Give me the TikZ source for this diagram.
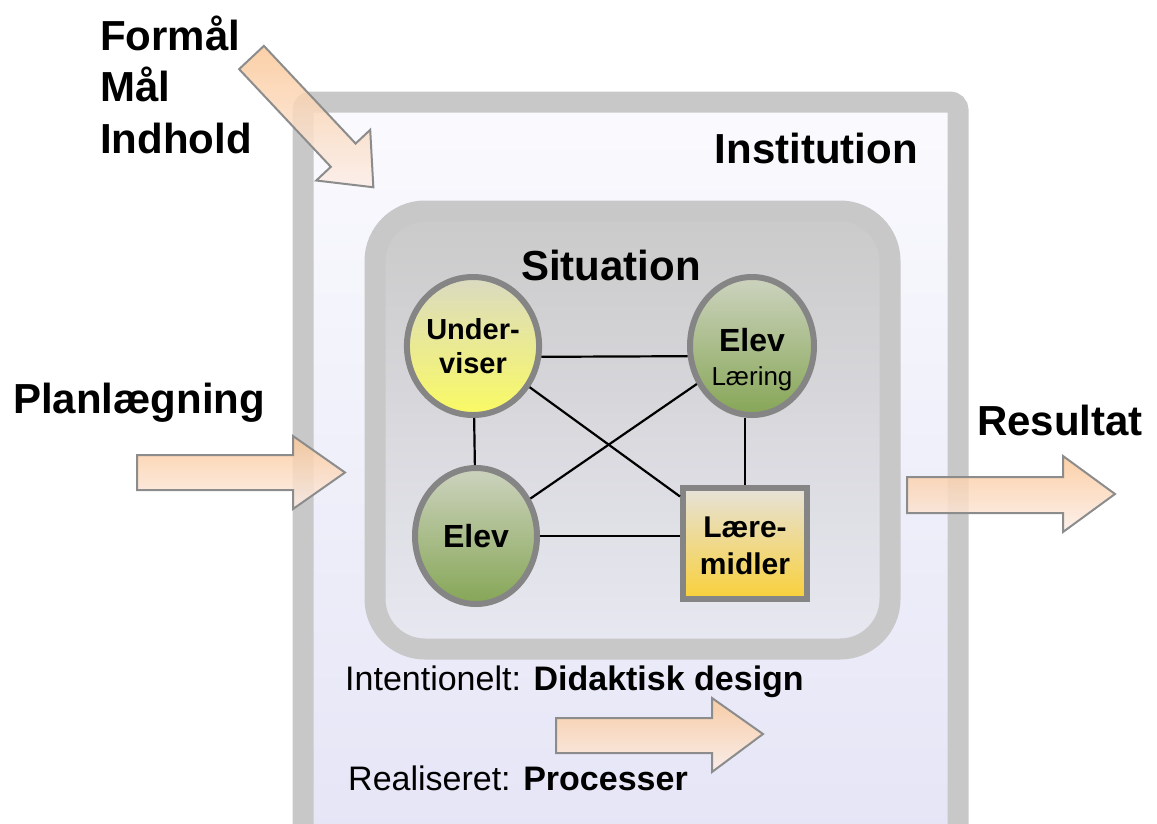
\documentclass[tikz,border=0pt]{standalone}
\usepackage{fontspec}
\setmainfont{Liberation Sans}
\usetikzlibrary{shapes.geometric}

\definecolor{rammegraa}{HTML}{C8C8C8}
\definecolor{lavtop}{HTML}{FAFAFE}
\definecolor{lavbund}{HTML}{E4E4F6}
\definecolor{sittop}{HTML}{CACACA}
\definecolor{sitbund}{HTML}{E8E8F2}
\definecolor{piltop}{HTML}{FAC898}
\definecolor{pilbund}{HTML}{FCEEE8}
\definecolor{pilkant}{HTML}{8C8C8C}
\definecolor{kant}{HTML}{858585}
\definecolor{gultop}{HTML}{DADAC2}
\definecolor{gulbund}{HTML}{FAFA64}
\definecolor{gronttop}{HTML}{CDD3BF}
\definecolor{grontbund}{HTML}{86A656}
\definecolor{midtop}{HTML}{E6E2DA}
\definecolor{midbund}{HTML}{F9D03A}

\tikzset{
  ramme/.style={draw=rammegraa, line width=21pt},
  pil/.style={draw=pilkant, line width=2pt, fill opacity=0.85, top color=piltop, bottom color=pilbund},
  rund/.style={ellipse, draw=kant, line width=6pt, inner sep=0pt, align=center},
  kasse/.style={rectangle, draw=kant, line width=6pt, inner sep=0pt, align=center},
  stor/.style={font=\fontsize{42}{51.5}\selectfont\bfseries, inner sep=0pt},
  lille/.style={font=\fontsize{34}{40}\selectfont, inner sep=0pt},
  streg/.style={line width=2.2pt},
}

\begin{document}
\begin{tikzpicture}[x=1pt,y=-1pt]
\useasboundingbox (0,0) rectangle (1157,823);
\clip (0,0) rectangle (1157,823);

% ===== Institution =====
\fill[top color=lavtop, bottom color=lavbund] (303,102) rectangle (958,870);
\draw[ramme, rounded corners=8pt] (303,870) -- (303,102) -- (958,102) -- (958,870);
\node[stor, anchor=base east] (inst) at (918,163) {Institution};

% ===== Situation =====
\draw[ramme, rounded corners=50pt, top color=sittop, bottom color=sitbund] (375,211) rectangle (890,649);
\node[stor, anchor=base] (sit) at (611,280) {Situation};

% Pile ind og ud
\begin{scope}[shift={(251.5,57.5)}, rotate=-46.8]
  \draw[pil] (0,-17) -- (134,-17) -- (134,-37) -- (178,0) -- (134,37) -- (134,17) -- (0,17) -- cycle;
\end{scope}
\draw[pil] (137,455) -- (293,455) -- (293,436) -- (345,472.5) -- (293,509) -- (293,490) -- (137,490) -- cycle;
\draw[pil] (907,477) -- (1063,477) -- (1063,456) -- (1115,494) -- (1063,532) -- (1063,513) -- (907,513) -- cycle;
\draw[pil] (556,718) -- (712,718) -- (712,698) -- (763,734) -- (712,772) -- (712,753) -- (556,753) -- cycle;

% Tekster udenfor
\node[stor, anchor=base west, align=left] (formaal) at (100,153) {Formål\\Mål\\Indhold};
\node[stor, anchor=base west] (plan) at (13,413) {Planlægning};
\node[stor, anchor=base west] (res) at (977,435) {Resultat};
\node[lille, anchor=base west] (intent) at (345,690) {Intentionelt: \textbf{Didaktisk design}};
\node[lille, anchor=base west] (real) at (348,790) {Realiseret: \textbf{Processer}};

% ===== Didaktisk relation =====
\node[rund, top color=gultop, bottom color=gulbund, minimum width=130pt, minimum height=138pt,
      font=\fontsize{29}{34}\selectfont\bfseries] (U) at (473,346) {Under-\\viser};
\node[rund, top color=gronttop, bottom color=grontbund, minimum width=124pt, minimum height=138pt,
      font=\fontsize{32}{34}\selectfont\bfseries, text height=84pt] (EL) at (752,346) {Elev\\{\fontsize{26}{34}\selectfont\mdseries Læring}};
\node[rund, top color=gronttop, bottom color=grontbund, minimum width=122pt, minimum height=136pt,
      font=\fontsize{32}{34}\selectfont\bfseries] (E) at (476,536) {Elev};
\node[kasse, top color=midtop, bottom color=midbund, minimum width=124pt, minimum height=111pt,
      font=\fontsize{30}{37}\selectfont\bfseries, text height=62pt] (L) at (745,543.5) {Lære-\\midler};

\draw[streg] (U.-9) -- (EL.189);
\draw[streg] (U) -- (E);
\draw[streg] (L.north) -- (L.north |- EL.south);
\draw[streg] (E) -- (E -| L.west);
\draw[streg] (U) -- (L);
\draw[streg] (EL) -- (E);

\end{tikzpicture}
\end{document}
